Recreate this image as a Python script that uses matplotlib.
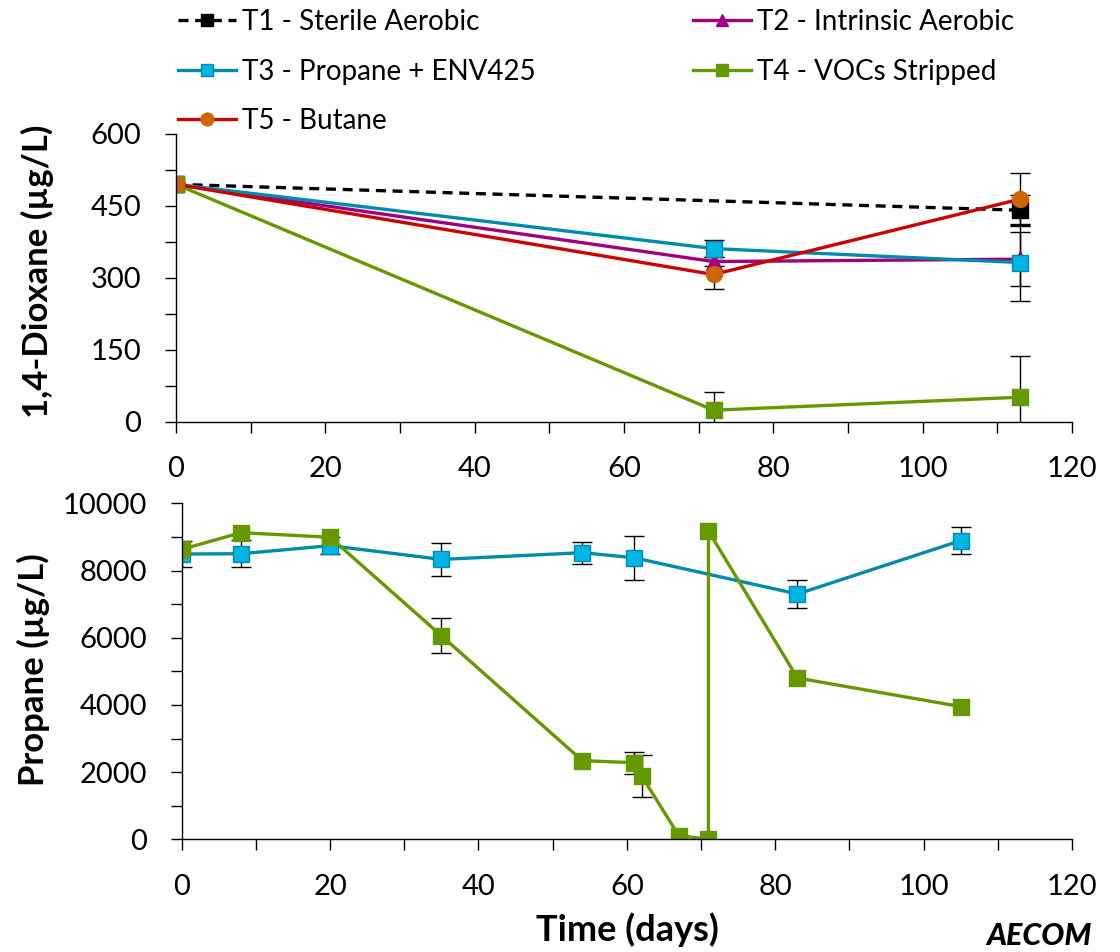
import numpy as np
import matplotlib.pyplot as plt

plt.rcParams['font.family'] = ['Lato', 'DejaVu Sans']

# 1,4-dioxane (top panel)
dx_days = [0, 72, 113]
t1_days = [0, 113]
t1_vals = [495, 441]
t1_err = [0, 31]
t2_vals = [495, 334, 339]
t2_err = [0, 10, 56]
t3_vals = [495, 361, 332]
t3_err = [0, 18, 80]
t4_vals = [495, 24, 51]
t4_err = [0, 38, 86]
t5_vals = [495, 307, 464]
t5_err = [0, 30, 55]

# propane (bottom panel)
p3_days = [0, 8, 20, 35, 54, 61, 83, 105]
p3_vals = [8490, 8500, 8740, 8330, 8530, 8380, 7300, 8890]
p3_err = [400, 400, 250, 500, 330, 650, 430, 390]
p4_days = [0, 8, 20, 35, 54, 61, 62, 67, 71, 71, 83, 105]
p4_vals = [8630, 9125, 8990, 6060, 2340, 2280, 1885, 110, 0, 9175, 4800, 3950]
p4_err = [0, 0, 0, 530, 0, 330, 620, 0, 0, 0, 0, 0]

labels = ['T1 - Sterile Aerobic', 'T2 - Intrinsic Aerobic', 'T3 - Propane + ENV425',
          'T4 - VOCs Stripped', 'T5 - Butane']

c_t2 = '#A0007F'
c_t3_line = '#008AAE'
c_t3_face = '#00B4E4'
c_t4 = '#669900'
c_t5_line = '#CC0000'
c_t5_face = '#CC6600'

lw = 2.4
ms = 11.5


def errbars(ax, x, y, e):
    x, y, e = np.array(x), np.array(y), np.array(e)
    keep = e > 0
    ax.errorbar(x[keep], y[keep], yerr=e[keep], fmt='none', ecolor='black',
                elinewidth=1.0, capsize=7, capthick=1.0, zorder=1)


def style(ax):
    for s in ['top', 'right']:
        ax.spines[s].set_visible(False)
    for s in ['left', 'bottom']:
        ax.spines[s].set_linewidth(1.0)
    ax.tick_params(which='both', direction='out', length=8, width=1.0, pad=17,
                   labelsize=21)


fig = plt.figure(figsize=(11.2, 9.52), dpi=100)

ax1 = fig.add_axes([176 / 1120, 1 - 421.7 / 952, 896 / 1120, 287.7 / 952])
errbars(ax1, t1_days, t1_vals, t1_err)
errbars(ax1, dx_days, t2_vals, t2_err)
errbars(ax1, dx_days, t3_vals, t3_err)
errbars(ax1, dx_days, t4_vals, t4_err)
errbars(ax1, dx_days, t5_vals, t5_err)
h1, = ax1.plot(t1_days, t1_vals, color='black', lw=lw, dashes=(3, 2), marker='s',
               ms=ms, mfc='black', mec='black', zorder=2)
h2, = ax1.plot(dx_days, t2_vals, color=c_t2, lw=lw, marker='^', ms=ms,
               mfc=c_t2, mec=c_t2, zorder=2)
h3, = ax1.plot(dx_days, t3_vals, color=c_t3_line, lw=lw, marker='s', ms=ms,
               mfc=c_t3_face, mec=c_t3_line, mew=1, zorder=2)
h4, = ax1.plot(dx_days, t4_vals, color=c_t4, lw=lw, marker='s', ms=ms,
               mfc=c_t4, mec=c_t4, zorder=2)
h5, = ax1.plot(dx_days, t5_vals, color=c_t5_line, lw=lw, marker='o', ms=ms,
               mfc=c_t5_face, mec=c_t5_face, zorder=2)
ax1.set_xlim(0, 120)
ax1.set_ylim(0, 600)
ax1.set_xticks(np.arange(0, 121, 20))
ax1.set_xticks(np.arange(0, 121, 10), minor=True)
ax1.set_yticks(np.arange(0, 601, 150))
ax1.set_yticks(np.arange(0, 601, 75), minor=True)
style(ax1)

ax2 = fig.add_axes([181.7 / 1120, 1 - 839.3 / 952, 890.3 / 1120, 336 / 952])
errbars(ax2, p3_days, p3_vals, p3_err)
errbars(ax2, p4_days, p4_vals, p4_err)
ax2.plot(p3_days, p3_vals, color=c_t3_line, lw=lw, marker='s', ms=ms,
         mfc=c_t3_face, mec=c_t3_line, mew=1, zorder=2)
ax2.plot(p4_days, p4_vals, color=c_t4, lw=lw, marker='s', ms=ms,
         mfc=c_t4, mec=c_t4, zorder=2)
ax2.set_xlim(0, 120)
ax2.set_ylim(0, 10000)
ax2.set_xticks(np.arange(0, 121, 20))
ax2.set_xticks(np.arange(0, 121, 10), minor=True)
ax2.set_yticks(np.arange(0, 10001, 2000))
ax2.set_yticks(np.arange(0, 10001, 1000), minor=True)
style(ax2)

fig.text(37 / 1120, 1 - 271 / 952, '1,4-Dioxane (µg/L)', rotation=90, ha='center',
         va='center', fontsize=25, fontweight='bold')
fig.text(33 / 1120, 1 - 670 / 952, 'Propane (µg/L)', rotation=90, ha='center',
         va='center', fontsize=25, fontweight='bold')
fig.text(627 / 1120, 1 - 930 / 952, 'Time (days)', ha='center', va='center',
         fontsize=26, fontweight='bold')
fig.text(1092 / 1120, 1 - 950 / 952, 'AECOM', ha='right', va='bottom',
         fontsize=22, fontweight='black', style='italic')

leg_kw = dict(loc='upper left', frameon=False, fontsize=20, handlelength=2.1,
              handletextpad=0.2, labelspacing=0.85, borderpad=0, borderaxespad=0,
              markerscale=0.8)
fig.legend([h1, h3, h5], [labels[0], labels[2], labels[4]],
           bbox_to_anchor=(178 / 1120, 1 - 9 / 952), **leg_kw)
fig.legend([h2, h4], [labels[1], labels[3]],
           bbox_to_anchor=(693 / 1120, 1 - 9 / 952), **leg_kw)

fig.savefig('out.png', dpi=100)
